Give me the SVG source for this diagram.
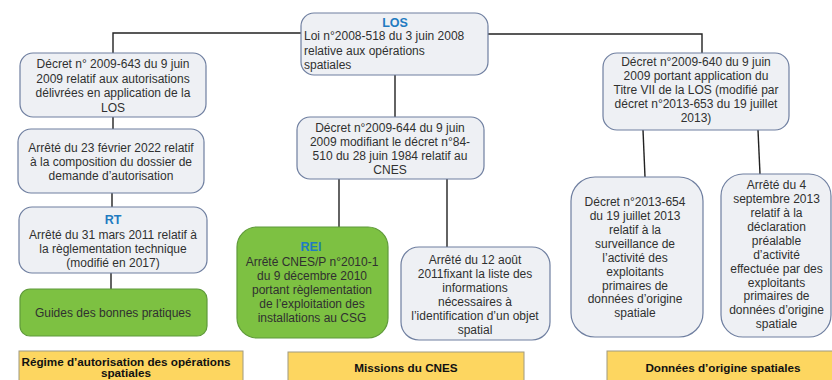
<svg xmlns="http://www.w3.org/2000/svg" width="832" height="380" viewBox="0 0 832 380">
<style>
.box{fill:#eef0f4;stroke:#6f7fa0;stroke-width:1.2}
.green{fill:#7dc142;stroke:#5f9a3a;stroke-width:1.2}
.yellow{fill:#fdd660;stroke:#a09a80;stroke-width:1}
.t{font-family:"Liberation Sans",Arial,sans-serif;font-size:12px;fill:#303030;text-anchor:middle}
.l{text-anchor:start}
.lab{font-family:"Liberation Sans",Arial,sans-serif;font-size:12.5px;font-weight:bold;fill:#1f7bc1;text-anchor:middle}
.yb{font-family:"Liberation Sans",Arial,sans-serif;font-size:11.7px;font-weight:bold;fill:#111;text-anchor:middle}
.c{fill:none;stroke:#222;stroke-width:1.4}
</style>
<rect width="832" height="380" fill="#ffffff"/>
<g id="connectors">
<path class="c" d="M301,33 H113 V53"/>
<path class="c" d="M113,117 V129"/>
<path class="c" d="M112,193 V207"/>
<path class="c" d="M111,273 V289"/>
<path class="c" d="M395,75 V117"/>
<path class="c" d="M339,179 V227"/>
<path class="c" d="M447,179 V247"/>
<path class="c" d="M488,34 H702 V53"/>
<path class="c" d="M643,130 L645,177"/>
<path class="c" d="M758,130 L760,174"/>
</g>
<g id="los">
<rect class="box" x="301" y="13" width="187" height="62" rx="13"/>
<text class="lab" x="395" y="26.5">LOS</text>
<text class="t l" x="304" y="40">Loi n°2008-518 du 3 juin 2008</text>
<text class="t l" x="304" y="54.5">relative aux opérations</text>
<text class="t l" x="304" y="69">spatiales</text>
</g>
<g id="decret643">
<rect class="box" x="20" y="53" width="186" height="64" rx="13"/>
<text class="t" x="113" y="68">Décret n° 2009-643 du 9 juin</text>
<text class="t" x="113" y="82.5">2009 relatif aux autorisations</text>
<text class="t" x="113" y="97">délivrées en application de la</text>
<text class="t" x="113" y="111.5">LOS</text>
</g>
<g id="arrete2022">
<rect class="box" x="18" y="129" width="186" height="64" rx="13"/>
<text class="t" x="111" y="152">Arrêté du 23 février 2022 relatif</text>
<text class="t" x="111" y="166">à la composition du dossier de</text>
<text class="t" x="111" y="180">demande d’autorisation</text>
</g>
<g id="rt">
<rect class="box" x="19" y="207" width="188" height="66" rx="13"/>
<text class="lab" x="113" y="223.5">RT</text>
<text class="t" x="113" y="238.5">Arrêté du 31 mars 2011 relatif à</text>
<text class="t" x="113" y="252.5">la règlementation technique</text>
<text class="t" x="113" y="266.5">(modifié en 2017)</text>
</g>
<g id="guides">
<rect class="green" x="20" y="289" width="187" height="47" rx="10"/>
<text class="t" x="113" y="317">Guides des bonnes pratiques</text>
</g>
<g id="regime">
<rect class="yellow" x="19" y="351" width="224" height="40"/>
<text class="yb" x="126" y="365.5">Régime d’autorisation des opérations</text>
<text class="yb" x="126" y="377">spatiales</text>
</g>
<g id="decret644">
<rect class="box" x="297" y="117" width="187" height="62" rx="13"/>
<text class="t" x="390" y="131.5">Décret n°2009-644 du 9 juin</text>
<text class="t" x="390" y="146">2009 modifiant le décret n°84-</text>
<text class="t" x="390" y="160">510 du 28 juin 1984 relatif au</text>
<text class="t" x="390" y="174">CNES</text>
</g>
<g id="rei">
<rect class="green" x="237" y="227" width="151" height="111" rx="20"/>
<text class="lab" x="311" y="251">REI</text>
<text class="t" x="312" y="266">Arrêté CNES/P n°2010-1</text>
<text class="t" x="312" y="280">du 9 décembre 2010</text>
<text class="t" x="312" y="294">portant règlementation</text>
<text class="t" x="312" y="308">de l’exploitation des</text>
<text class="t" x="312" y="322">installations au CSG</text>
</g>
<g id="arrete2011">
<rect class="box" x="401" y="247" width="149" height="93" rx="18"/>
<text class="t" x="475" y="264">Arrêté du 12 août</text>
<text class="t" x="475" y="278">2011fixant la liste des</text>
<text class="t" x="475" y="292">informations</text>
<text class="t" x="475" y="306">nécessaires à</text>
<text class="t" x="475" y="320">l’identification d’un objet</text>
<text class="t" x="475" y="334">spatial</text>
</g>
<g id="missions">
<rect class="yellow" x="288" y="352" width="236" height="40"/>
<text class="yb" x="406" y="372">Missions du CNES</text>
</g>
<g id="decret640">
<rect class="box" x="603" y="53" width="186" height="77" rx="14"/>
<text class="t" x="696" y="66">Décret n°2009-640 du 9 juin</text>
<text class="t" x="696" y="80">2009 portant application du</text>
<text class="t" x="696" y="94">Titre VII de la LOS (modifié par</text>
<text class="t" x="696" y="108">décret n°2013-653 du 19 juillet</text>
<text class="t" x="696" y="122">2013)</text>
</g>
<g id="decret654">
<rect class="box" x="571" y="177" width="132" height="160" rx="24"/>
<text class="t" x="635" y="206">Décret n°2013-654</text>
<text class="t" x="635" y="220">du 19 juillet 2013</text>
<text class="t" x="635" y="234">relatif à la</text>
<text class="t" x="635" y="248">surveillance de</text>
<text class="t" x="635" y="262">l’activité des</text>
<text class="t" x="635" y="275.5">exploitants</text>
<text class="t" x="635" y="289.5">primaires de</text>
<text class="t" x="635" y="303">données d’origine</text>
<text class="t" x="635" y="317">spatiale</text>
</g>
<g id="arrete2013">
<rect class="box" x="721" y="174" width="110" height="163" rx="22"/>
<text class="t" x="776.5" y="189">Arrêté du 4</text>
<text class="t" x="776.5" y="203">septembre 2013</text>
<text class="t" x="776.5" y="217">relatif à la</text>
<text class="t" x="776.5" y="231">déclaration</text>
<text class="t" x="776.5" y="245">préalable</text>
<text class="t" x="776.5" y="258.5">d’activité</text>
<text class="t" x="776.5" y="272.5">effectuée par des</text>
<text class="t" x="776.5" y="286.5">exploitants</text>
<text class="t" x="776.5" y="300">primaires de</text>
<text class="t" x="776.5" y="314">données d’origine</text>
<text class="t" x="776.5" y="328">spatiale</text>
</g>
<g id="donnees">
<rect class="yellow" x="607" y="351" width="230" height="40"/>
<text class="yb" x="723" y="372">Données d’origine spatiales</text>
</g>
</svg>
